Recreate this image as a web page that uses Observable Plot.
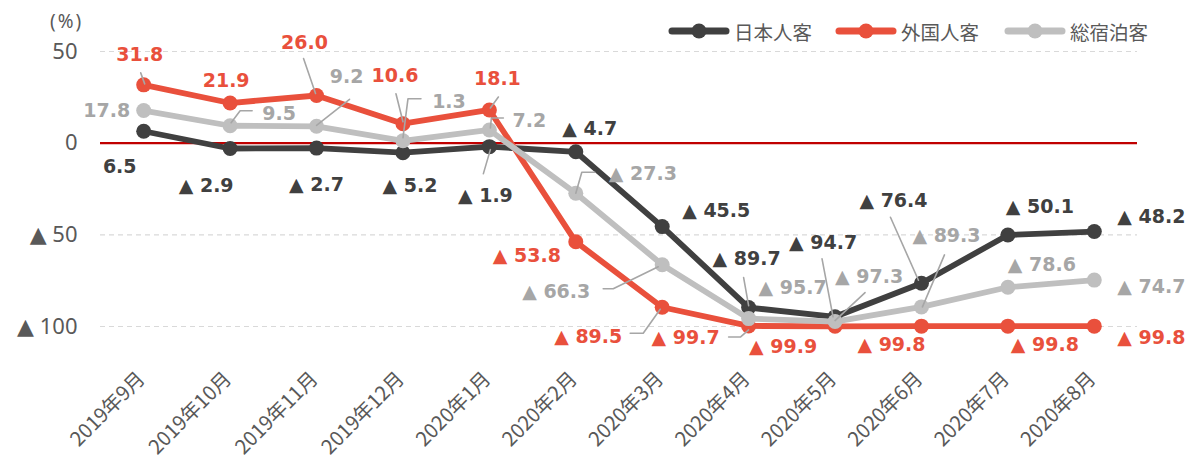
<!DOCTYPE html>
<html><head><meta charset="utf-8">
<script src="https://cdn.jsdelivr.net/npm/d3@7"></script>
<script src="https://cdn.jsdelivr.net/npm/@observablehq/plot@0.6"></script>
<style>
body{margin:0;background:#fff;}
#wrap{position:relative;width:1189px;height:461px;overflow:hidden;}
#unit{position:absolute;left:50px;top:8px;font-family:"Noto Sans";font-size:19px;letter-spacing:2px;color:#595959;}
.lg{position:absolute;top:19px;height:24px;display:flex;align-items:center;font-family:"Noto Sans CJK JP";font-size:19.5px;color:#595959;white-space:nowrap;}
.lg svg{margin-right:4px;}
</style></head><body>
<div id="wrap"><div id="chart"></div><div id="unit">(%)</div><div id="legend"></div></div>
<script>
const months = ["2019年9月","2019年10月","2019年11月","2019年12月","2020年1月","2020年2月","2020年3月","2020年4月","2020年5月","2020年6月","2020年7月","2020年8月"];
const seriesNames = ["日本人客","外国人客","総宿泊客"];
const japanese = [6.5, -2.9, -2.7, -5.2, -1.9, -4.7, -45.5, -89.7, -94.7, -76.4, -50.1, -48.2];
const foreign  = [31.8, 21.9, 26.0, 10.6, 18.1, -53.8, -89.5, -99.7, -99.9, -99.8, -99.8, -99.8];
const total    = [17.8, 9.5, 9.2, 1.3, 7.2, -27.3, -66.3, -95.7, -97.3, -89.3, -78.6, -74.7];
const yTicks = [50, 0, -50, -100];

// styles
const lineColors = ["#404040", "#e9503c", "#bfbfbf"];
const textColors = ["#404040", "#e9503c", "#a6a6a6"];

// label placement (pixel offsets of label centre from its point)
const labelOffsets = [
  [[-24,36],[-24,37],[0,37],[7,33],[-4,49],[14,-23],[54,-16],[-2,-49],[-12,-74],[-28,-82],[32,-28],[57,-15]],
  [[-4,-30],[-4,-22],[-12,-53],[-8,-48],[8,-31],[-49,14],[-74,30],[-63,12],[-52,21],[-30,19],[37,19],[57,12]],
  [[-37,0],[49,-12],[30,-49],[46,-39],[40,-9],[67,-19],[-106,27],[44,-31],[34,-45],[25,-71],[34,-22],[57,7]]
];
// leader lines: [series, month, polyline of pixel offsets]
const leaders = [
  [0,4,[[-6,27],[1,3]]],
  [0,7,[[-5,-30],[0,-2]]],
  [0,8,[[-13,-58],[-2,0]]],
  [0,9,[[-31,-66],[-3,-3]]],
  [1,0,[[-3,-12],[1,-1]]],
  [1,2,[[-13,-37],[-1,-2]]],
  [1,3,[[-7,-30],[0,-2]]],
  [1,4,[[9,-13],[1,-2]]],
  [1,6,[[-32,26],[-19,26],[-2,2]]],
  [1,7,[[-20,11],[-8,11],[0,4]]],
  [2,1,[[1,-3],[10,-15],[22,-15]]],
  [2,2,[[0,-1],[33,-27]]],
  [2,3,[[0,-3],[5,-42],[18,-42]]],
  [2,4,[[1,-2],[2,-12],[14,-12]]],
  [2,5,[[0,0],[6,-21],[19,-21]]],
  [2,6,[[-59,24],[-49,24],[-4,2]]],
  [2,8,[[0,-1],[30,-29]]],
  [2,9,[[1,0],[23,-52]]]
];

const W = 1189, H = 461, mL = 100, mR = 52, mT = 51, mB = 135;
const yMin = -100, yMax = 50;
const kx = (W - mL - mR) / months.length;
const ky = (H - mT - mB) / (yMax - yMin);

const allSeries = [japanese, foreign, total];
const rows = [];
allSeries.forEach((vals, s) => vals.forEach((v, i) => rows.push({s, i, v})));

const fmtLabel = v => v < 0 ? "▲ " + (-v).toFixed(1) : v.toFixed(1);
const fmtAxis = v => v < 0 ? "▲ " + (-v) : String(v);

const labelRows = rows.map(d => {
  const [ox, oy] = labelOffsets[d.s][d.i];
  return {...d, lx: d.i + ox / kx, ly: d.v - oy / ky, text: fmtLabel(d.v)};
});
const leaderRows = [];
leaders.forEach(([s, i, pts], k) => {
  const v = allSeries[s][i];
  pts.forEach(([ox, oy]) => leaderRows.push({k, x: i + ox / kx, y: v - oy / ky}));
});

const seriesMarks = [];
allSeries.forEach((vals, s) => {
  const data = rows.filter(d => d.s === s);
  seriesMarks.push(Plot.line(data, {x: "i", y: "v", stroke: lineColors[s], strokeWidth: 5.8, strokeLinejoin: "round", strokeLinecap: "round"}));
  seriesMarks.push(Plot.dot(data, {x: "i", y: "v", r: 7.5, fill: lineColors[s], stroke: "none"}));
});

const chart = Plot.plot({
  width: W, height: H,
  marginLeft: mL, marginRight: mR, marginTop: mT, marginBottom: mB,
  style: {color: "#595959", background: "transparent", overflow: "visible"},
  x: {domain: [-0.5, months.length - 0.5]},
  y: {domain: [yMin, yMax]},
  marks: [
    Plot.ruleY(yTicks.filter(v => v !== 0), {stroke: "#d9d9d9", strokeWidth: 1.2, strokeDasharray: "5,4"}),
    Plot.ruleY([0], {stroke: "#c00000", strokeWidth: 2.2}),
    ...seriesMarks,
    Plot.line(leaderRows, {x: "x", y: "y", z: "k", stroke: "#a6a6a6", strokeWidth: 1.6}),
    Plot.text(labelRows, {x: "lx", y: "ly", text: "text", fill: d => textColors[d.s], fontSize: 19, fontWeight: "bold", fontFamily: "DejaVu Sans", textAnchor: "middle"}),
    Plot.axisY({ticks: yTicks, tickFormat: fmtAxis, tickSize: 0, tickPadding: 23, fontSize: 22, fontFamily: "Noto Sans, DejaVu Sans", label: null}),
    Plot.axisX({ticks: d3.range(months.length), tickFormat: i => months[i], tickRotate: -45, tickSize: 0, tickPadding: 49, dx: -2, fontSize: 20, fontFamily: "Noto Sans CJK JP", label: null})
  ]
});
document.getElementById("chart").appendChild(chart);

// legend
const legendX = [[668, 734], [835, 901], [1004, 1070]];
const lg = document.getElementById("legend");
seriesNames.forEach((name, s) => {
  const item = document.createElement("div");
  item.className = "lg";
  item.style.left = legendX[s][0] + "px";
  item.innerHTML = `<svg width="62" height="18" viewBox="0 0 62 18"><line x1="4" y1="9" x2="58" y2="9" stroke="${lineColors[s]}" stroke-width="7" stroke-linecap="round"/><circle cx="31" cy="9" r="7.5" fill="${lineColors[s]}"/></svg><span>${name}</span>`;
  lg.appendChild(item);
});
</script>
</body></html>
